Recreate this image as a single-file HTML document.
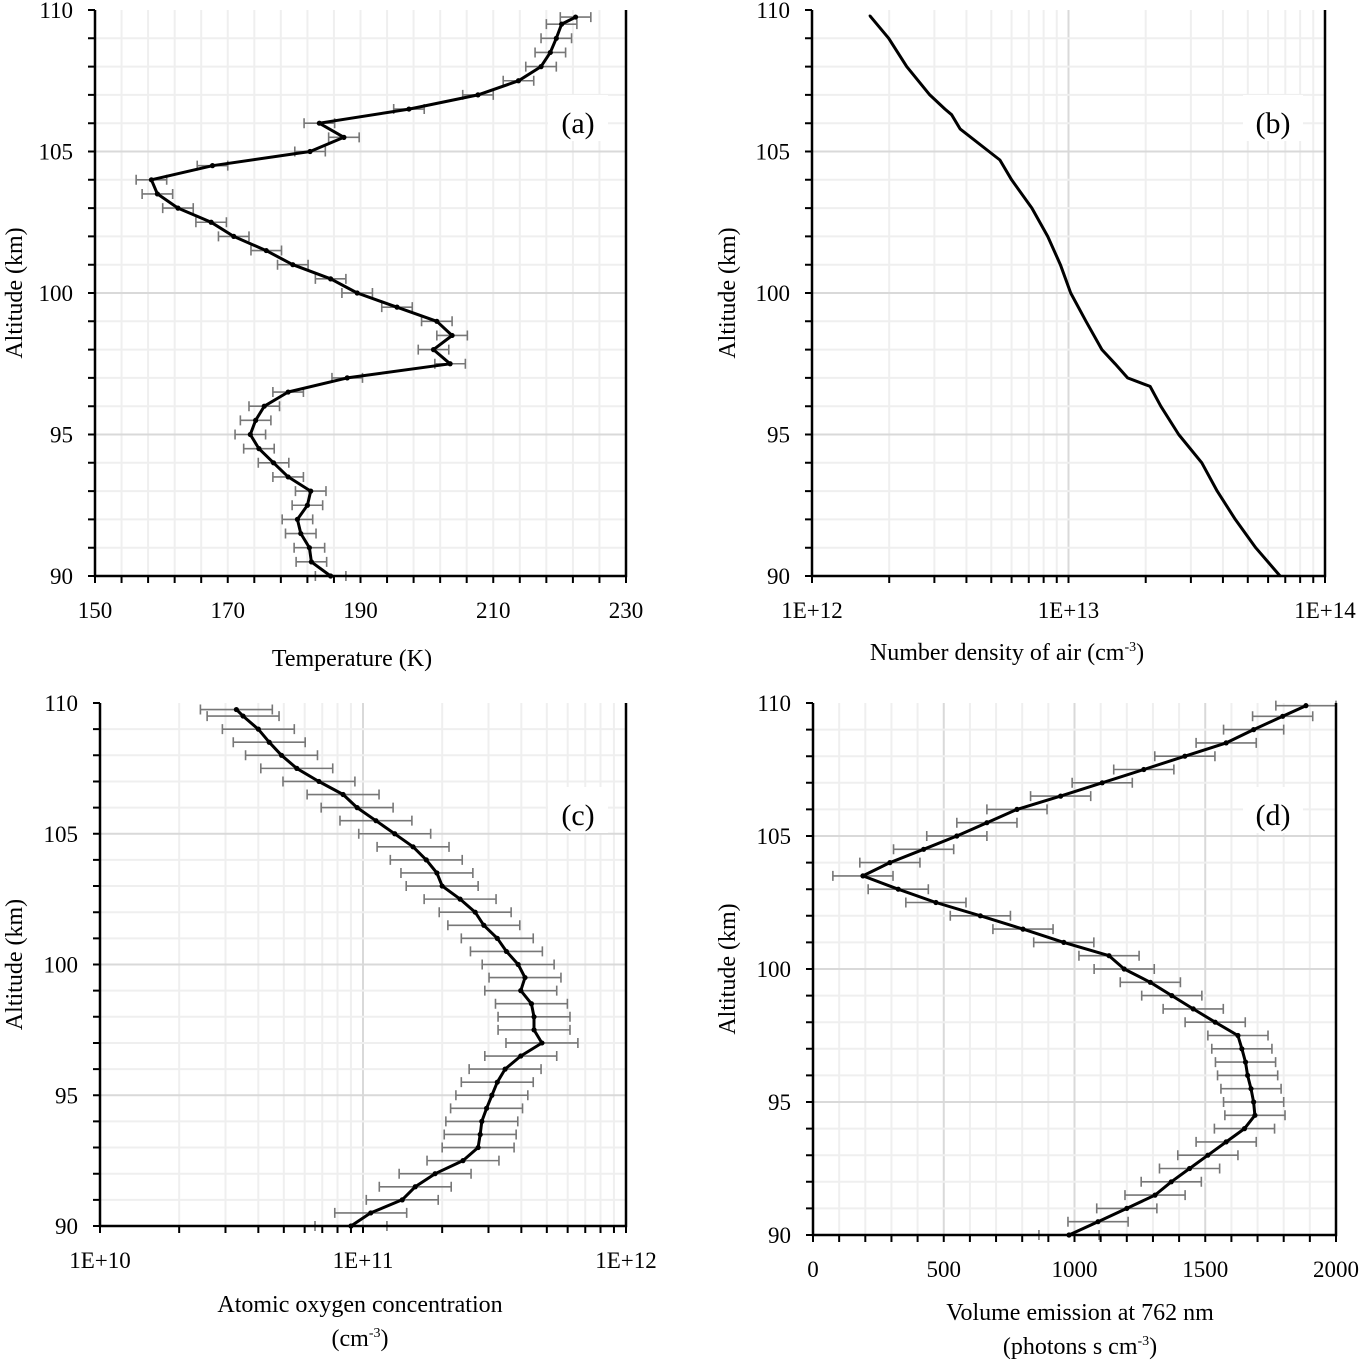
<!DOCTYPE html>
<html><head><meta charset="utf-8">
<style>
html,body{margin:0;padding:0;background:#fff;}
svg{display:block;font-family:"Liberation Serif",serif;}
</style></head>
<body>
<svg id="fig" width="1364" height="1363" viewBox="0 0 1364 1363" xmlns="http://www.w3.org/2000/svg"></svg>
<script>
// ---- Panel (a) temperature ----
const altA = [90,90.5,91,91.5,92,92.5,93,93.5,94,94.5,95,95.5,96,96.5,97,97.5,98,98.5,99,99.5,100,100.5,101,101.5,102,102.5,103,103.5,104,104.5,105,105.5,106,106.5,107,107.5,108,108.5,109,109.5,109.75];
const tempA = [185.5,182.6,182.3,181,180.5,182,182.5,179.1,176.9,174.7,173.4,174.2,175.5,179.1,188,203.5,201,203.8,201.5,195.5,189.5,185.5,179.8,175.8,170.9,167.5,162.5,159.4,158.5,167.7,182.4,187.5,183.8,197.3,207.7,213.8,217.2,218.6,219.5,220.3,222.4];
const errA = 2.3;
const ticksXA = [150,170,190,210,230];
// ---- Panel (b) air density ----
const altB = [90,91,92,93,94,95,96,96.7,97,97.5,98,99,100,101,102,103,104,104.7,105,105.8,106.3,106.5,107,108,109,109.8];
const densB = [6.68e13,5.37e13,4.47e13,3.80e13,3.31e13,2.69e13,2.29e13,2.08e13,1.70e13,1.52e13,1.35e13,1.17e13,1.02e13,9.3e12,8.3e12,7.2e12,6.0e12,5.4e12,4.9e12,3.78e12,3.5e12,3.3e12,2.88e12,2.34e12,1.99e12,1.68e12];
const ticksXB = ["1E+12","1E+13","1E+14"];
// ---- Panel (c) atomic oxygen (units 1e11 cm-3) ----
const altC = [90,90.5,91,91.5,92,92.5,93,93.5,94,94.5,95,95.5,96,96.5,97,97.5,98,98.5,99,99.5,100,100.5,101,101.5,102,102.5,103,103.5,104,104.5,105,105.5,106,106.5,107,107.5,108,108.5,109,109.5,109.75];
const oxC = [0.90,1.07,1.41,1.58,1.88,2.40,2.74,2.79,2.83,2.95,3.09,3.24,3.47,3.98,4.79,4.47,4.47,4.37,3.98,4.13,3.89,3.51,3.24,2.88,2.67,2.34,2.0,1.91,1.74,1.55,1.32,1.12,0.95,0.84,0.68,0.56,0.49,0.44,0.40,0.35,0.33];
const errFactorC = 1.37;
const ticksXC = ["1E+10","1E+11","1E+12"];
// ---- Panel (d) volume emission ----
const altD = [90,90.5,91,91.5,92,92.5,93,93.5,94,94.5,95,95.5,96,96.5,97,97.5,98,98.5,99,99.5,100,100.5,101,101.5,102,102.5,103,103.5,104,104.5,105,105.5,106,106.5,107,107.5,108,108.5,109,109.5,109.9];
const verD = [979,1090,1200,1308,1370,1440,1510,1580,1650,1690,1685,1675,1662,1654,1640,1625,1538,1454,1372,1290,1190,1132,959,803,640,470,326,191,294,423,550,665,780,947,1106,1265,1422,1580,1685,1796,1885];
const errD = 115;
const ticksXD = [0,500,1000,1500,2000];
const ticksY = [90,95,100,105,110];

const NS = "http://www.w3.org/2000/svg";
const svg = document.getElementById('fig');
function mk(tag, attrs, parent){
  const e = document.createElementNS(NS, tag);
  for (const k in attrs) e.setAttribute(k, attrs[k]);
  (parent||svg).appendChild(e);
  return e;
}

function panel(cfg){
  const g = mk('g', {});
  
  
  const {x0,x1,y0,y1} = cfg;
  const sy = a => y1 - (a-90)/20*(y1-y0);
  const sx = cfg.sx;
  // grid
  cfg.vgrid.forEach(v => {
    const l = mk('line', {x1:sx(v.v), x2:sx(v.v), y1:y0, y2:y1, stroke: v.major?'#d9d9d9':'#efefef', 'stroke-width':2}, g);
    
    
  });
  for (let a=91; a<110; a++){
    const major = a%5===0;
    const l = mk('line', {x1:x0, x2:x1, y1:sy(a), y2:sy(a), stroke: major?'#d9d9d9':'#efefef', 'stroke-width':2}, g);
    
    
  }
  // label box
  const lb = mk('rect', {x:cfg.lx-30, y:cfg.ly-28, width:60, height:46, fill:'#fff'}, g);
  
  
  const lt = mk('text', {x:cfg.lx, y:cfg.ly+10, 'font-size':30, 'text-anchor':'middle', fill:'#000'}, g);
  lt.textContent = cfg.label;
  
  
  // error bars
  if (cfg.err){
    cfg.alts.forEach((a,i) => {
      const [lo,hi] = cfg.err(i);
      const y = sy(a);
      const eb = mk('path', {d:`M${lo},${y}H${hi}M${lo},${y-5}V${y+5}M${hi},${y-5}V${y+5}`, stroke:'#777', 'stroke-width':1.6, fill:'none'}, g);
      
      
    });
  }
  // line
  const pts = cfg.alts.map((a,i) => sx(cfg.vals[i]).toFixed(1)+','+sy(a).toFixed(1)).join(' ');
  const pl = mk('polyline', {points:pts, fill:'none', stroke:'#000', 'stroke-width':3, 'stroke-linejoin':'round'}, g);
  
  
  cfg.alts.forEach((a,i) => {
    const c = mk('circle', {cx:sx(cfg.vals[i]), cy:sy(a), r: cfg.dot, fill:'#000'}, g);
    
    
  });
  // axes
  const ax = mk('path', {d:`M${x0},${y0}V${y1}H${x1}V${y0}`, stroke:'#000', 'stroke-width':2.5, fill:'none'}, g);
  
  
  let tk = '';
  for (let a=90; a<=110; a++) tk += `M${x0-7},${sy(a)}H${x0}`;
  cfg.vgrid.forEach(v => tk += `M${sx(v.v)},${y1}V${y1+7}`);
  tk += `M${x0},${y1}V${y1+7}M${x1},${y1}V${y1+7}`;
  const tp = mk('path', {d:tk, stroke:'#000', 'stroke-width':2}, g);
  
  
  ticksY.forEach(a => {
    const t = mk('text', {x:x0-22, y:sy(a)+8, 'font-size':23, 'text-anchor':'end'}, g);
    t.textContent = a;
    
    
  });
  cfg.xticks.forEach((lab,i) => {
    const t = mk('text', {x:cfg.xtickPos(i), y:cfg.xtickY, 'font-size':23, 'text-anchor':'middle'}, g);
    t.textContent = lab;
    
    
  });
  const yt = mk('text', {x:0, y:0, 'font-size':24, 'text-anchor':'middle', transform:`translate(${cfg.ytX},${(y0+y1)/2}) rotate(-90)`}, g);
  yt.textContent = 'Altitude (km)';
  
  
  cfg.xtitle.forEach((ln,i) => {
    const t = mk('text', {x:cfg.xtX, y:cfg.xtY + i*34, 'font-size':24, 'text-anchor':'middle'}, g);
    t.innerHTML = ln;
    
    
  });
}

function linGrid(min,max,step,majorStep){ const r=[]; for(let v=min+step; v<max-1e-9; v+=step) r.push({v, major: Math.abs(v/majorStep-Math.round(v/majorStep))<1e-6}); return r; }
function logGrid(d0,d1){ const r=[]; for(let d=d0; d<d1; d++) for(let m=1;m<10;m++){ if(d===d0&&m===1) continue; r.push({v:m*Math.pow(10,d), major:m===1}); } return r; }

// (a)
(function(){
  const x0=95,x1=626; const sx = v => x0+(v-150)/80*(x1-x0);
  panel({name:'panel-a-temperature', x0,x1,y0:10,y1:576, sx, alts:altA, vals:tempA, dot:2.6,
    err:i=>[sx(tempA[i]-errA), sx(tempA[i]+errA)],
    vgrid:linGrid(150,230,4,20), label:'(a)', lx:578, ly:123,
    xticks:ticksXA, xtickPos:i=>sx(ticksXA[i]), xtickY:618, ytX:22,
    xtitle:['Temperature (K)'], xtX:352, xtY:666});
})();
// (b)
(function(){
  const x0=812,x1=1325; const sx = v => x0+(Math.log10(v)-12)/2*(x1-x0);
  panel({name:'panel-b-air-density', x0,x1,y0:10,y1:576, sx, alts:altB, vals:densB, dot:1.2,
    err:null, vgrid:logGrid(12,14), label:'(b)', lx:1273, ly:123,
    xticks:ticksXB, xtickPos:i=>x0+i*(x1-x0)/2, xtickY:618, ytX:735,
    xtitle:['Number density of air (cm<tspan dy="-9" font-size="14">-3</tspan><tspan dy="9">)</tspan>'], xtX:1007, xtY:660});
})();
// (c)
(function(){
  const x0=100,x1=626; const sx = v => x0+(Math.log10(v*1e11)-10)/2*(x1-x0);
  panel({name:'panel-c-atomic-oxygen', x0,x1,y0:703,y1:1226, sx, alts:altC, vals:oxC, dot:2.6,
    err:i=>[sx(oxC[i]/errFactorC), sx(oxC[i]*errFactorC)],
    vgrid:logGrid(10,12).map(o=>({v:o.v/1e11, major:o.major})), label:'(c)', lx:578, ly:815,
    xticks:ticksXC, xtickPos:i=>x0+i*(x1-x0)/2, xtickY:1268, ytX:22,
    xtitle:['Atomic oxygen concentration','(cm<tspan dy="-9" font-size="14">-3</tspan><tspan dy="9">)</tspan>'], xtX:360, xtY:1312});
})();
// (d)
(function(){
  const x0=813,x1=1336; const sx = v => x0+v/2000*(x1-x0);
  panel({name:'panel-d-volume-emission', x0,x1,y0:703,y1:1235, sx, alts:altD, vals:verD, dot:2.6,
    err:i=>[sx(verD[i]-errD), sx(verD[i]+errD)],
    vgrid:linGrid(0,2000,100,500), label:'(d)', lx:1273, ly:815,
    xticks:ticksXD, xtickPos:i=>sx(ticksXD[i]), xtickY:1277, ytX:735,
    xtitle:['Volume emission at 762 nm','(photons s cm<tspan dy="-9" font-size="14">-3</tspan><tspan dy="9">)</tspan>'], xtX:1080, xtY:1320});
})();
</script>
</body></html>
